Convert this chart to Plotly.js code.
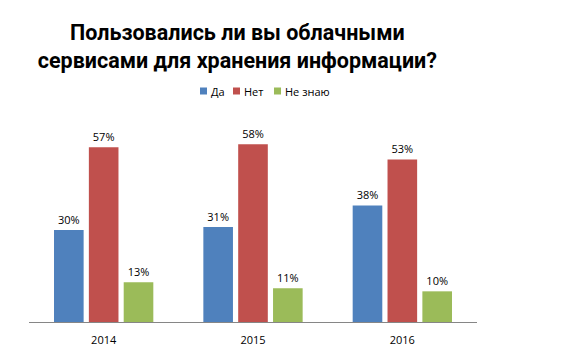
<!DOCTYPE html>
<html>
<head>
<meta charset="utf-8">
<script src="https://cdn.plot.ly/plotly-3.0.1.min.js"></script>
<style>html,body{margin:0;padding:0;background:#fff;}#chart{width:572px;height:353px;}</style>
</head>
<body>
<div id="chart"></div>
<script>
var years = ['2014', '2015', '2016'];
var seriesNames = ['Да', 'Нет', 'Не знаю'];
var da = [30, 31, 38];
var net = [57, 58, 53];
var neZnayu = [13, 11, 10];
var colors = ['#4F81BD', '#C0504D', '#9BBB59'];

var values = [da, net, neZnayu];
var traces = values.map(function (v, i) {
  return {
    type: 'bar',
    name: seriesNames[i],
    x: years,
    y: v,
    marker: {color: colors[i]},
    text: v.map(function (d) { return d + '%'; }),
    textposition: 'outside',
    textfont: {family: 'Open Sans, sans-serif', size: 11, color: '#000'},
    cliponaxis: false,
    hoverinfo: 'none'
  };
});

// manual compact legend (positions in pixels converted to paper coords)
var W = 572, H = 353, mL = 29, mR = 95, mT = 138, mB = 31;
var pw = W - mL - mR, ph = H - mT - mB;
function px(x) { return (x - mL) / pw; }
function py(y) { return (H - mB - y) / ph; }
var legX = [200, 233, 274];
var legY = 91;
var shapes = [], annotations = [];
seriesNames.forEach(function (n, i) {
  shapes.push({type: 'rect', xref: 'paper', yref: 'paper',
    x0: px(legX[i]), x1: px(legX[i] + 7), y0: py(legY + 3.5), y1: py(legY - 3.5),
    fillcolor: colors[i], line: {width: 0}});
  annotations.push({xref: 'paper', yref: 'paper', x: px(legX[i] + 9), y: py(legY),
    xanchor: 'left', yanchor: 'middle', showarrow: false, text: n,
    font: {family: 'Open Sans, sans-serif', size: 11, color: '#000'}});
});

var layout = {
  width: W, height: H,
  margin: {l: mL, r: mR, t: mT, b: mB},
  paper_bgcolor: '#fff', plot_bgcolor: '#fff',
  barmode: 'group', bargap: 0.30, bargroupgap: 0.15,
  title: {
    text: 'Пользовались ли вы облачными<br>сервисами для хранения информации?',
    font: {family: 'Roboto, sans-serif', size: 21.5, color: '#000', weight: 'bold'},
    x: 0.415, xanchor: 'center', y: 0.887, yanchor: 'middle'
  },
  showlegend: false,
  shapes: shapes,
  annotations: annotations,
  xaxis: {
    type: 'category', showline: true, linecolor: '#868686', linewidth: 1,
    ticks: '', showgrid: false, zeroline: false, ticklabelstandoff: 8,
    tickfont: {family: 'Open Sans, sans-serif', size: 11, color: '#000'}
  },
  yaxis: {
    range: [0, 60], visible: false, showgrid: false, zeroline: false, fixedrange: true
  }
};

Plotly.newPlot('chart', traces, layout, {displayModeBar: false, staticPlot: true});
</script>
</body>
</html>
